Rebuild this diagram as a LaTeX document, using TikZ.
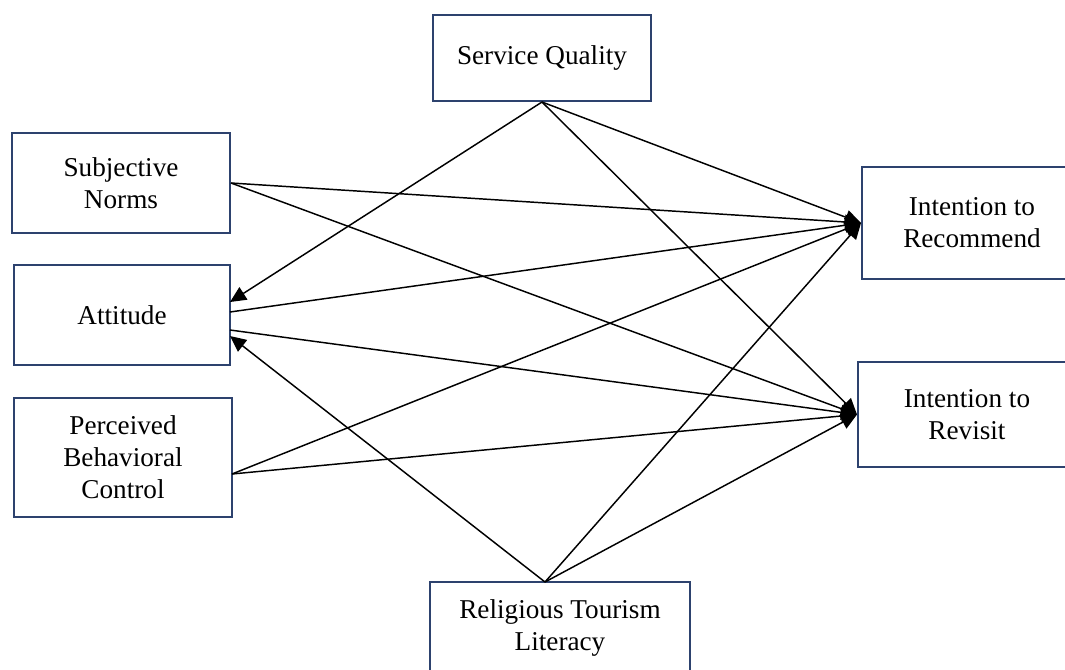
\documentclass[tikz,border=0pt]{standalone}
\usepackage{fontspec}
\setmainfont{Liberation Serif}
\usetikzlibrary{arrows.meta}
\definecolor{boxblue}{RGB}{45,66,110}
\tikzset{
  varbox/.style={draw=boxblue, line width=1.5pt, fill=white, align=center, inner sep=2pt,
    font=\fontsize{20.4}{24}\selectfont},
  path/.style={line width=1.1pt, -{Triangle[length=12pt,width=11pt]}}
}
\begin{document}
\begin{tikzpicture}[x=0.75pt,y=0.75pt,yscale=-1,xscale=1]
\useasboundingbox (0,0) rectangle (1065,669);
\clip (0,0) rectangle (1065,669);
% constructs
\node [varbox, minimum width=163.5pt, minimum height=64.5pt] (sq) at (542,58) {Service Quality};
\node [varbox, minimum width=163.5pt, minimum height=75pt] (sn) at (121,183) {Subjective\\Norms};
\node [varbox, minimum width=162pt, minimum height=75pt] (att) at (122,315) {Attitude};
\node [varbox, minimum width=163.5pt, minimum height=89.25pt] (pbc) at (123,457.5) {Perceived\\Behavioral\\Control};
\node [varbox, minimum width=165pt, minimum height=84pt] (ir) at (972,223) {Intention to\\Recommend};
\node [varbox, minimum width=163.5pt, minimum height=78.75pt] (rv) at (967,414.5) {Intention to\\Revisit};
\node [varbox, minimum width=195pt, minimum height=69pt] (rtl) at (560,628) {Religious Tourism\\Literacy};
% ports on the box edges
\coordinate (att-in1) at (230,302);
\coordinate (att-out1) at (230,312);
\coordinate (att-out2) at (230,330);
\coordinate (att-in2) at (230,336);
\coordinate (pbc-out) at (232,474);
\coordinate (rtl-out) at (545,582);
% paths
\draw [path] (sq.south) -- (att-in1);
\draw [path] (sq.south) -- (ir.west);
\draw [path] (sq.south) -- (rv.west);
\draw [path] (sn.east) -- (ir.west);
\draw [path] (sn.east) -- (rv.west);
\draw [path] (att-out1) -- (ir.west);
\draw [path] (att-out2) -- (rv.west);
\draw [path] (pbc-out) -- (ir.west);
\draw [path] (pbc-out) -- (rv.west);
\draw [path] (rtl-out) -- (att-in2);
\draw [path] (rtl-out) -- (ir.west);
\draw [path] (rtl-out) -- (rv.west);
\end{tikzpicture}
\end{document}
